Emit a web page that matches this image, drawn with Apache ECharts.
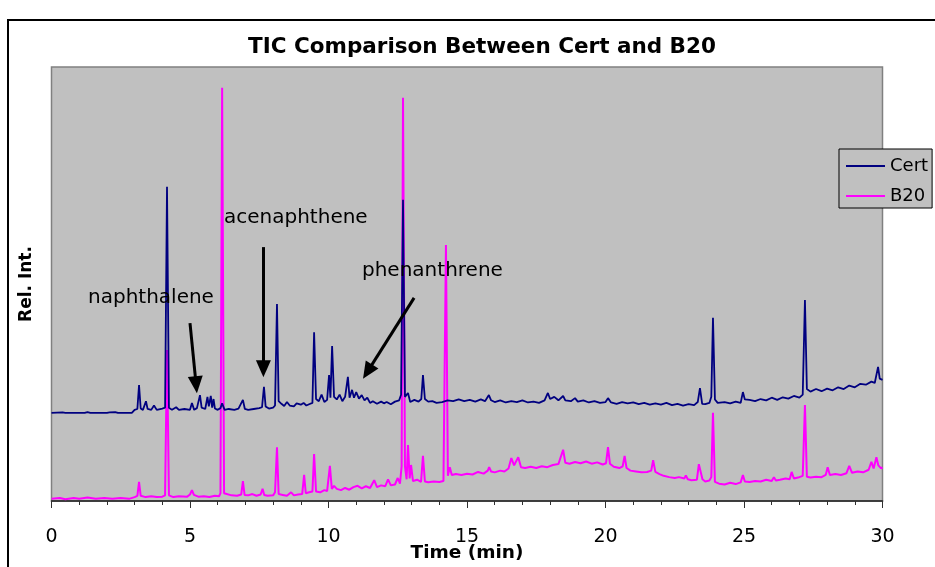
<!DOCTYPE html>
<html>
<head>
<meta charset="utf-8">
<script src="https://cdn.jsdelivr.net/npm/echarts@6/dist/echarts.min.js"></script>
<style>
html,body{margin:0;padding:0;background:#fff;}
#chart{width:935px;height:567px;}
</style>
</head>
<body>
<div id="chart"></div>
<script>
// ---- Data (time in min, relative intensity 0-100) ----
var titleText = "TIC Comparison Between Cert and B20";
var xAxisName = "Time (min)";
var yAxisName = "Rel. Int.";
var seriesNames = ["Cert", "B20"];
var xTicks = [0, 5, 10, 15, 20, 25, 30];

var certData = [[0,20.3],[0.4,20.4],[0.5,20.3],[1.2,20.3],[1.3,20.5],[1.4,20.3],[2.0,20.3],[2.05,20.6],[2.1,20.4],[2.3,20.5],[2.4,20.3],[2.9,20.3],[3.0,21.0],[3.1,21.2],[3.16,26.7],[3.22,21.3],[3.3,21.0],[3.41,23.0],[3.47,21.2],[3.6,21.0],[3.7,22.0],[3.8,21.0],[4.0,21.3],[4.1,21.5],[4.17,72.4],[4.24,21.5],[4.35,21.0],[4.5,21.6],[4.6,21.0],[4.8,21.2],[5.0,21.0],[5.07,22.6],[5.15,21.0],[5.25,21.4],[5.36,24.4],[5.42,21.5],[5.55,21.2],[5.63,24.0],[5.68,21.8],[5.75,24.2],[5.8,21.5],[5.85,23.5],[5.9,21.3],[6.0,21.0],[6.1,21.4],[6.16,22.5],[6.25,21.0],[6.4,21.2],[6.6,21.0],[6.75,21.3],[6.91,23.3],[6.98,21.2],[7.1,21.0],[7.3,21.2],[7.5,21.4],[7.6,21.6],[7.67,26.3],[7.73,21.8],[7.85,21.3],[8.0,21.5],[8.07,22.0],[8.14,45.4],[8.2,23.0],[8.3,22.4],[8.4,21.9],[8.5,22.8],[8.6,22.0],[8.75,21.8],[8.85,22.5],[9.0,22.2],[9.1,22.6],[9.2,22.0],[9.3,22.3],[9.42,22.6],[9.48,38.9],[9.55,23.5],[9.65,23.0],[9.75,24.5],[9.85,22.8],[9.95,23.3],[10.02,29.0],[10.07,23.8],[10.13,35.7],[10.2,24.0],[10.3,23.4],[10.4,24.5],[10.5,23.0],[10.6,24.0],[10.7,28.6],[10.76,23.8],[10.85,25.6],[10.92,23.8],[11.0,25.1],[11.1,23.6],[11.2,24.4],[11.3,23.2],[11.4,23.8],[11.5,22.6],[11.6,23.0],[11.75,22.4],[11.9,22.9],[12.0,22.5],[12.1,22.8],[12.25,22.3],[12.4,22.9],[12.55,23.2],[12.62,24.5],[12.69,69.4],[12.76,24.0],[12.87,24.9],[12.95,22.8],[13.1,23.3],[13.25,22.9],[13.35,23.5],[13.41,29.0],[13.48,23.5],[13.6,22.9],[13.75,23.0],[13.9,22.6],[14.1,22.8],[14.3,23.2],[14.5,23.0],[14.7,23.4],[14.9,23.0],[15.1,23.3],[15.3,22.9],[15.5,23.4],[15.65,23.0],[15.79,24.4],[15.87,23.2],[16.0,22.8],[16.2,23.2],[16.4,22.7],[16.6,23.0],[16.8,22.8],[17.0,23.2],[17.2,22.7],[17.4,22.9],[17.6,22.6],[17.8,23.2],[17.92,24.9],[18.0,23.5],[18.15,24.0],[18.3,23.2],[18.47,24.2],[18.55,23.2],[18.75,23.0],[18.9,23.7],[19.0,22.9],[19.2,23.2],[19.4,22.7],[19.6,23.0],[19.8,22.6],[20.0,22.8],[20.09,23.7],[20.2,22.7],[20.4,22.4],[20.6,22.8],[20.8,22.5],[21.0,22.7],[21.2,22.3],[21.4,22.6],[21.6,22.2],[21.8,22.5],[22.0,22.2],[22.2,22.6],[22.4,22.1],[22.6,22.4],[22.8,22.0],[23.0,22.3],[23.2,22.1],[23.33,22.8],[23.41,26.0],[23.49,22.4],[23.6,22.3],[23.75,22.6],[23.82,24.0],[23.88,42.2],[23.95,23.4],[24.05,22.6],[24.3,22.8],[24.5,22.5],[24.7,22.9],[24.88,22.6],[24.96,25.1],[25.03,23.4],[25.2,23.3],[25.4,23.0],[25.6,23.5],[25.8,23.2],[26.0,23.8],[26.2,23.3],[26.4,23.9],[26.6,23.6],[26.8,24.2],[27.0,23.8],[27.12,24.5],[27.2,46.3],[27.27,25.8],[27.4,25.2],[27.6,25.8],[27.8,25.3],[28.0,25.9],[28.2,25.5],[28.4,26.2],[28.6,25.8],[28.8,26.6],[29.0,26.2],[29.2,27.0],[29.4,26.8],[29.6,27.5],[29.72,27.2],[29.84,30.9],[29.9,28.2],[30,27.9]];

var b20Data = [[0,0.5],[0.3,0.7],[0.5,0.4],[0.8,0.7],[1.0,0.5],[1.3,0.8],[1.6,0.5],[1.9,0.7],[2.2,0.5],[2.5,0.7],[2.8,0.5],[3.0,0.9],[3.1,1.2],[3.16,4.4],[3.22,1.2],[3.4,0.9],[3.6,1.1],[3.8,0.9],[4.0,1.0],[4.1,1.3],[4.17,34.8],[4.24,1.3],[4.4,0.9],[4.6,1.1],[4.9,1.0],[5.0,1.5],[5.07,2.5],[5.14,1.4],[5.3,1.0],[5.5,1.1],[5.7,0.9],[5.9,1.2],[6.05,1.1],[6.1,1.8],[6.16,95.2],[6.23,1.8],[6.3,1.4],[6.5,1.3],[6.7,1.2],[6.85,1.5],[6.91,4.6],[6.97,1.4],[7.1,1.3],[7.25,1.6],[7.4,1.2],[7.55,1.5],[7.62,2.8],[7.68,1.4],[7.8,1.2],[8.0,1.3],[8.07,2.0],[8.14,12.4],[8.2,1.6],[8.35,1.4],[8.5,1.2],[8.65,2.0],[8.75,1.3],[8.9,1.5],[9.05,1.6],[9.12,6.0],[9.18,1.8],[9.3,2.0],[9.42,2.2],[9.48,10.8],[9.55,2.2],[9.7,2.0],[9.85,2.5],[9.95,2.3],[10.05,8.1],[10.12,2.8],[10.2,3.5],[10.3,2.8],[10.45,2.5],[10.6,3.0],[10.75,2.6],[10.9,3.2],[11.05,3.5],[11.2,2.9],[11.35,3.4],[11.5,3.0],[11.65,4.8],[11.75,3.2],[11.9,3.6],[12.05,3.4],[12.15,5.0],[12.25,3.6],[12.4,3.8],[12.5,5.3],[12.58,4.0],[12.64,8.0],[12.69,92.9],[12.76,8.0],[12.82,5.0],[12.87,12.9],[12.93,5.2],[12.98,8.3],[13.05,4.6],[13.2,4.9],[13.34,4.4],[13.41,10.4],[13.48,4.5],[13.6,4.3],[13.8,4.5],[14.0,4.4],[14.15,4.6],[14.24,59.0],[14.31,5.8],[14.38,7.8],[14.45,6.0],[14.6,6.2],[14.8,6.0],[15.0,6.3],[15.2,6.1],[15.4,6.7],[15.6,6.3],[15.75,7.0],[15.8,7.8],[15.87,6.8],[16.0,6.6],[16.2,7.0],[16.35,6.8],[16.5,7.5],[16.6,9.9],[16.7,8.2],[16.85,10.1],[16.95,7.8],[17.1,7.6],[17.3,7.9],[17.5,7.6],[17.7,8.0],[17.9,7.8],[18.1,8.3],[18.3,8.5],[18.47,11.8],[18.55,8.8],[18.7,8.6],[18.9,9.0],[19.1,8.7],[19.3,9.1],[19.5,8.6],[19.7,8.9],[19.9,8.4],[20.02,8.7],[20.09,12.4],[20.16,8.6],[20.3,7.9],[20.5,7.6],[20.62,8.0],[20.69,10.4],[20.76,7.6],[20.9,7.0],[21.1,6.8],[21.3,6.6],[21.5,6.7],[21.65,7.0],[21.72,9.4],[21.8,6.7],[21.95,6.2],[22.1,5.8],[22.3,5.5],[22.5,5.3],[22.65,5.5],[22.85,5.2],[22.9,5.9],[22.97,5.0],[23.1,4.8],[23.3,4.9],[23.37,8.5],[23.44,8.8],[23.5,5.0],[23.6,4.5],[23.75,4.7],[23.82,5.5],[23.88,20.3],[23.95,4.4],[24.1,4.0],[24.3,3.8],[24.5,4.2],[24.7,3.9],[24.88,4.3],[24.96,6.0],[25.03,4.5],[25.2,4.4],[25.4,4.6],[25.6,4.5],[25.8,4.9],[26.0,4.6],[26.08,5.5],[26.15,4.7],[26.3,4.9],[26.5,5.2],[26.65,5.0],[26.72,6.7],[26.8,5.2],[26.95,5.4],[27.12,5.8],[27.2,22.1],[27.27,5.6],[27.4,5.4],[27.6,5.6],[27.8,5.5],[27.95,6.0],[28.02,7.8],[28.1,6.0],[28.3,6.2],[28.5,6.0],[28.7,6.4],[28.8,8.1],[28.9,6.5],[29.1,6.8],[29.3,6.6],[29.5,7.2],[29.6,9.0],[29.68,7.5],[29.78,10.1],[29.85,8.2],[29.95,7.5],[30,7.8]];

// annotation labels and arrow endpoints (data coordinates: [time, intensity])
var annotationLabels = ["naphthalene", "acenaphthene", "phenanthrene"];
var arrowStarts = [[5.0, 41.0], [7.65, 58.5], [13.09, 46.8]];
var arrowEnds = [[5.22, 26.8], [7.65, 30.5], [11.41, 29.8]];

// ---- Chart ----
var FONT = "'DejaVu Sans', 'Liberation Sans', Arial, sans-serif";
var chart = echarts.init(document.getElementById('chart'), null, {renderer: 'canvas'});

var arrowLines = arrowStarts.map(function (s, i) {
  return [{coord: s, symbol: 'none'}, {coord: arrowEnds[i], symbol: 'triangle'}];
});

var labelPos = [[88, 298], [224, 218], [362, 271]];

var option = {
  animation: false,
  backgroundColor: '#ffffff',
  title: {
    text: titleText,
    left: 243,
    top: 31,
    textStyle: {fontFamily: FONT, fontWeight: 'bold', fontSize: 21.5, color: '#000'}
  },
  legend: {
    data: seriesNames,
    orient: 'vertical',
    left: 839,
    top: 149,
    width: 91,
    backgroundColor: '#C0C0C0',
    borderColor: '#000',
    borderWidth: 1,
    padding: [8, 4, 3, 7],
    itemGap: 12,
    itemWidth: 39,
    itemHeight: 2,
    icon: 'rect',
    selectedMode: false,
    textStyle: {fontFamily: FONT, fontSize: 18, color: '#000'}
  },
  grid: {
    left: 51.5, right: 52.5, top: 67, bottom: 66,
    outerBoundsMode: 'none',
    containLabel: false,
    show: true,
    backgroundColor: '#C0C0C0',
    borderColor: '#808080',
    borderWidth: 1.5
  },
  xAxis: {
    type: 'value',
    min: 0, max: 30, interval: 5,
    name: xAxisName,
    nameLocation: 'middle',
    nameGap: 43,
    nameMoveOverlap: false,
    nameTextStyle: {fontFamily: FONT, fontWeight: 'bold', fontSize: 18.5, color: '#000'},
    axisLine: {show: true, onZero: false, lineStyle: {color: '#202020', width: 1.5}},
    axisTick: {show: true, length: 7, lineStyle: {color: '#303030', width: 1}},
    minorTick: {show: true, splitNumber: 5, length: 4, lineStyle: {color: '#303030', width: 1}},
    axisLabel: {margin: 27, fontFamily: FONT, fontSize: 19, color: '#000',
      formatter: function (v) { return xTicks.indexOf(v) >= 0 ? String(v) : ''; }},
    splitLine: {show: false}
  },
  yAxis: {
    type: 'value',
    min: 0, max: 100,
    name: yAxisName,
    nameLocation: 'middle',
    nameGap: 16,
    nameMoveOverlap: false,
    nameTextStyle: {fontFamily: FONT, fontWeight: 'bold', fontSize: 17, color: '#000'},
    axisLine: {show: false},
    axisTick: {show: false},
    axisLabel: {show: false},
    splitLine: {show: false}
  },
  series: [
    {
      name: seriesNames[0],
      type: 'line',
      data: certData,
      z: 4,
      showSymbol: false,
      symbol: 'none',
      color: '#000080',
      lineStyle: {color: '#000080', width: 1.8},
      markLine: {
        silent: true,
        symbolSize: [15, 17],
        label: {show: false},
        itemStyle: {color: '#000'},
        lineStyle: {color: '#000', width: 3, type: 'solid'},
        data: arrowLines
      }
    },
    {
      name: seriesNames[1],
      type: 'line',
      data: b20Data,
      z: 3,
      showSymbol: false,
      symbol: 'none',
      color: '#FF00FF',
      lineStyle: {color: '#FF00FF', width: 2}
    }
  ],
  graphic: [
    {
      type: 'rect', silent: true, z: 0,
      shape: {x: 8, y: 20, width: 960, height: 600},
      style: {fill: 'none', stroke: '#000', lineWidth: 2}
    }
  ].concat(annotationLabels.map(function (t, i) {
    return {
      type: 'text', silent: true, z: 100,
      x: labelPos[i][0], y: labelPos[i][1],
      style: {text: t, fill: '#000', font: "20px " + FONT, verticalAlign: 'middle', align: 'left'}
    };
  }))
};

chart.setOption(option);
</script>
</body>
</html>
